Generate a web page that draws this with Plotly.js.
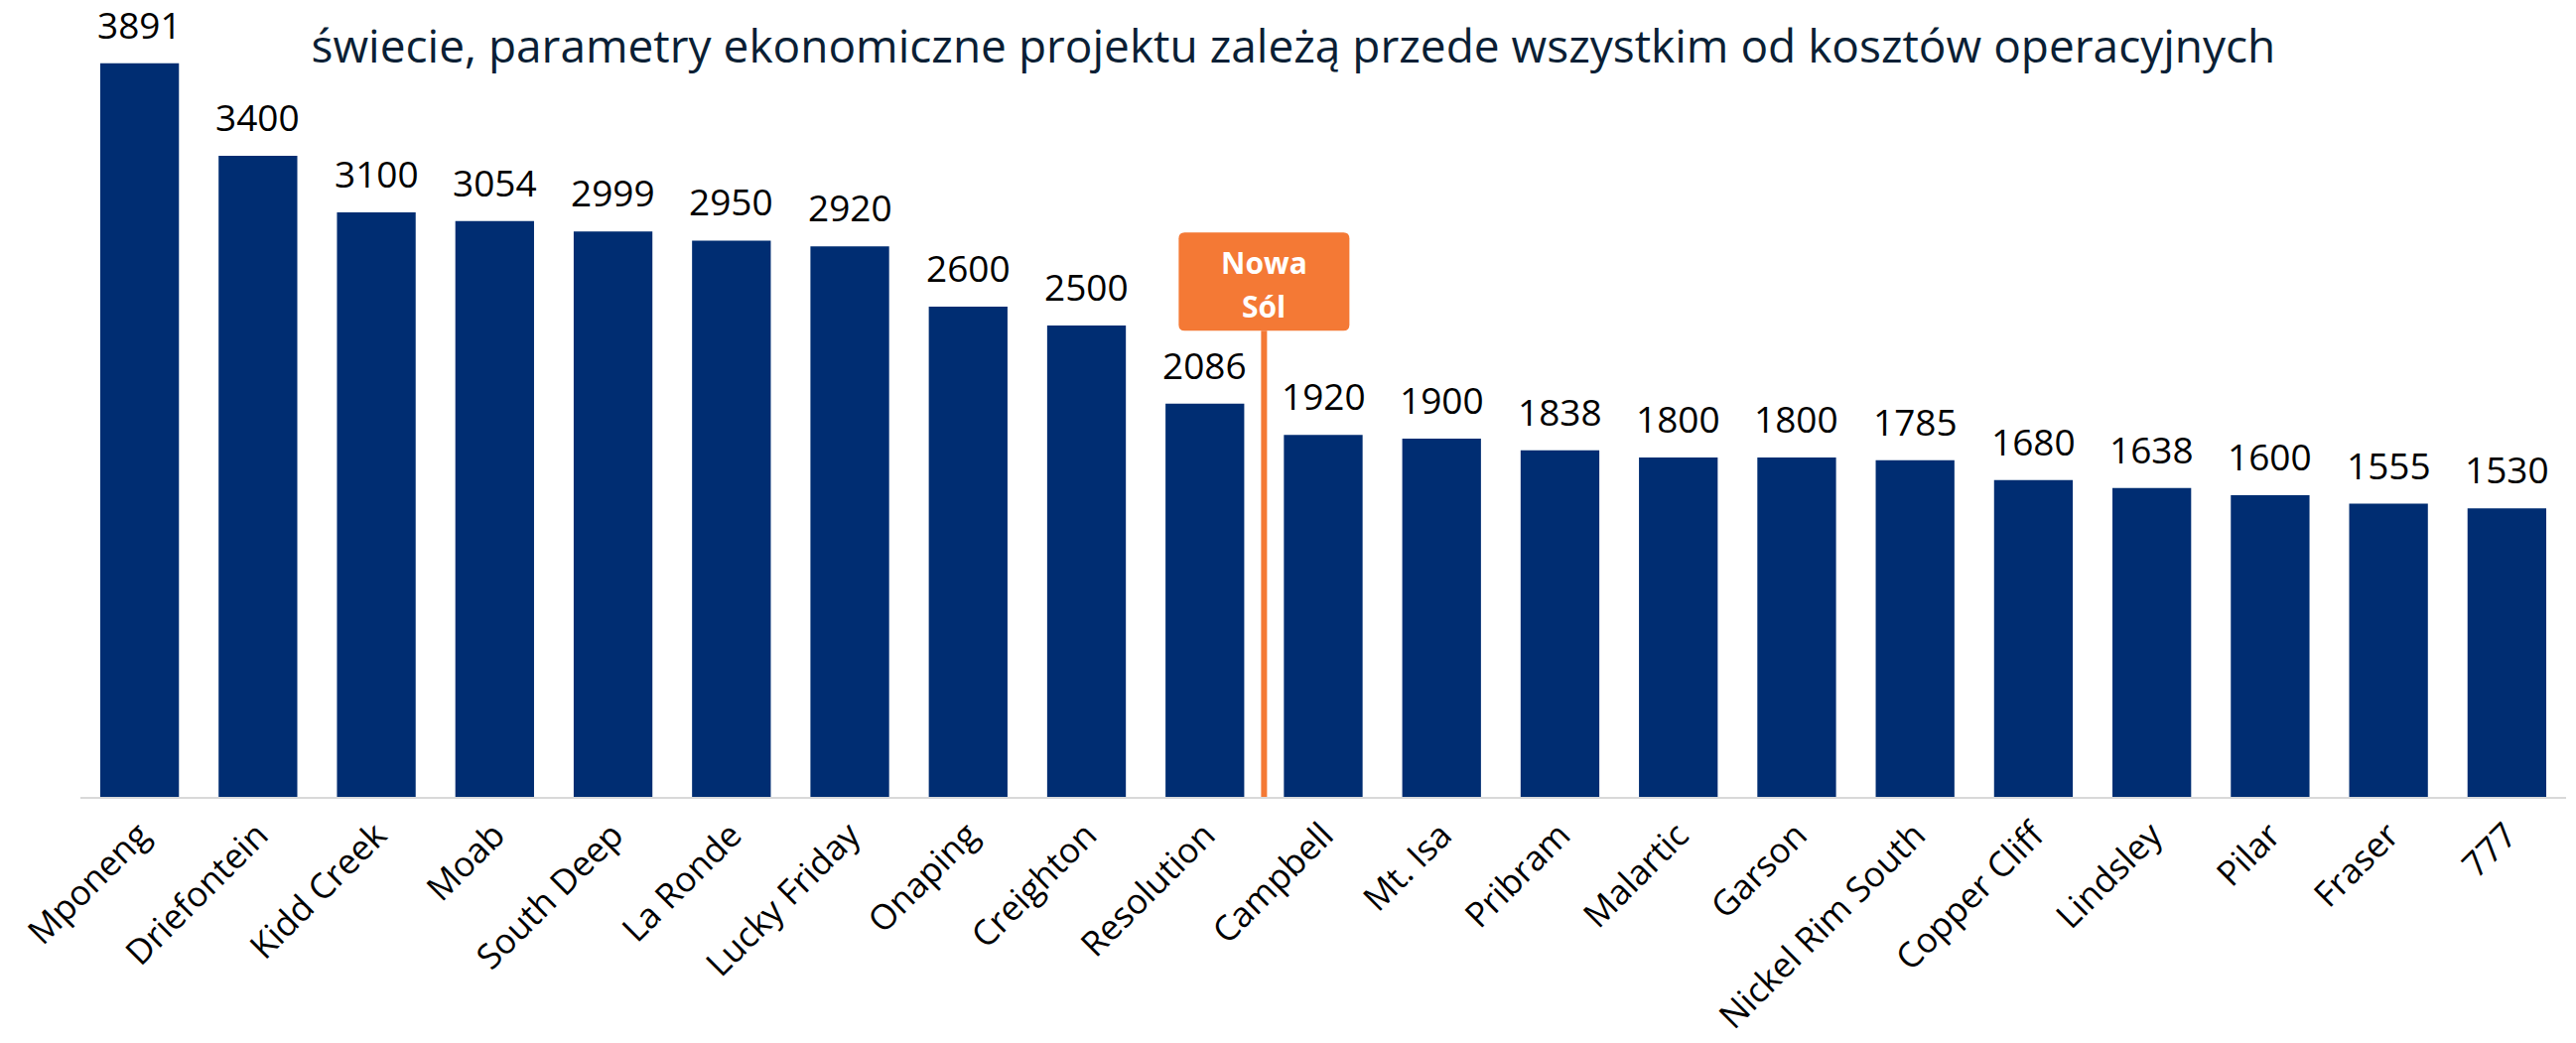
<!DOCTYPE html>
<html>
<head>
<meta charset="utf-8">
<script src="https://cdn.plot.ly/plotly-3.0.1.min.js"></script>
<style>html,body{margin:0;padding:0;background:#fff;}#chart{width:2595px;height:1051px;}</style>
</head>
<body>
<div id="chart"></div>
<script>
const categories = ['Mponeng','Driefontein','Kidd Creek','Moab','South Deep','La Ronde','Lucky Friday','Onaping','Creighton','Resolution','Campbell','Mt. Isa','Pribram','Malartic','Garson','Nickel Rim South','Copper Cliff','Lindsley','Pilar','Fraser','777'];
const values = [3891,3400,3100,3054,2999,2950,2920,2600,2500,2086,1920,1900,1838,1800,1800,1785,1680,1638,1600,1555,1530];
const titleText = 'świecie, parametry ekonomiczne projektu zależą przede wszystkim od kosztów operacyjnych';
const markerAfter = 'Resolution';
const markerLines = ['Nowa', 'Sól'];

const FONT = 'Open Sans, Noto Sans, sans-serif';
const BAR = '#002d72';
const ORANGE = '#f47935';

const markerX = categories.indexOf(markerAfter) + 0.5;

const trace = {
  type: 'bar',
  x: categories,
  y: values,
  marker: {color: BAR},
  hoverinfo: 'skip'
};

const valueAnnotations = categories.map((c, i) => ({
  x: i, y: values[i], xref: 'x', yref: 'y',
  text: String(values[i]),
  showarrow: false, yanchor: 'bottom', yshift: 12,
  font: {family: FONT, size: 37, color: '#000000'}
}));

const markerAnnotations = [
  {x: markerX, xref: 'x', y: 0.688, yref: 'paper', text: '<b>' + markerLines[0] + '</b>', showarrow: false,
   xanchor: 'center', yanchor: 'middle', font: {family: FONT, size: 30, color: '#ffffff'}},
  {x: markerX, xref: 'x', y: 0.631, yref: 'paper', text: '<b>' + markerLines[1] + '</b>', showarrow: false,
   xanchor: 'center', yanchor: 'middle', font: {family: FONT, size: 30, color: '#ffffff'}}
];

const layout = {
  width: 2595, height: 1051,
  margin: {l: 81, r: 10, t: 20, b: 248},
  paper_bgcolor: '#ffffff', plot_bgcolor: '#ffffff',
  showlegend: false,
  bargap: 0.335,
  title: {
    text: titleText,
    x: 0.5021, xanchor: 'center',
    y: 0.955, yanchor: 'middle', yref: 'container',
    font: {family: FONT, size: 46, color: '#0b1f35'}
  },
  xaxis: {
    type: 'category',
    range: [-0.5, categories.length - 0.5],
    tickangle: -45,
    tickfont: {family: FONT, size: 35, color: '#000000'},
    ticklabelstandoff: 2,
    showline: true, linecolor: '#d9d9d9', linewidth: 2,
    ticks: '', showgrid: false, zeroline: false,
    fixedrange: true
  },
  yaxis: {
    range: [0, 4121],
    showgrid: false, zeroline: false, showticklabels: false, showline: false, ticks: '',
    fixedrange: true
  },
  shapes: [
    {type: 'line', xref: 'x', yref: 'paper', x0: markerX, x1: markerX, y0: 0, y1: 0.6,
     line: {color: ORANGE, width: 6}},
    {type: 'path', xref: 'x', yref: 'paper', xsizemode: 'pixel', ysizemode: 'pixel',
     xanchor: markerX, yanchor: 0.6,
     path: 'M-86,6 Q-86,0 -80,0 L80,0 Q86,0 86,6 L86,93 Q86,99 80,99 L-80,99 Q-86,99 -86,93 Z',
     fillcolor: ORANGE, line: {width: 0}}
  ],
  annotations: valueAnnotations.concat(markerAnnotations)
};

Plotly.newPlot('chart', [trace], layout, {displayModeBar: false, staticPlot: true});
</script>
</body>
</html>
